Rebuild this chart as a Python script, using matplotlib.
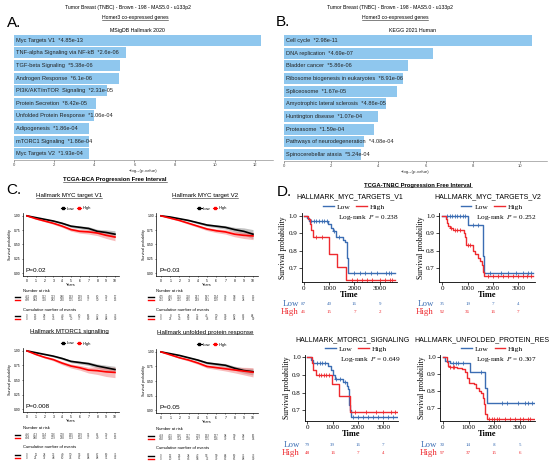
import matplotlib
matplotlib.use("Agg")
import matplotlib.pyplot as plt
import matplotlib.transforms as mtransforms
from matplotlib.lines import Line2D
import numpy as np

plt.rcParams["font.family"] = ["Liberation Sans", "DejaVu Sans"]
plt.rcParams["mathtext.fontset"] = "stix"

# ---- panel A / B : enrichment bars ----
hallmark_terms = ["Myc Targets V1", "TNF-alpha Signaling via NF-kB", "TGF-beta Signaling",
                  "Androgen Response", "PI3K/AKT/mTOR  Signaling", "Protein Secretion",
                  "Unfolded Protein Response", "Adipogenesis", "mTORC1 Signaling", "Myc Targets V2"]
hallmark_pvals = ["4.85e-13", "2.6e-06", "5.38e-06", "6.1e-06", "2.31e-05", "8.42e-05",
                  "1.06e-04", "1.86e-04", "1.86e-04", "1.93e-04"]
kegg_terms = ["Cell cycle", "DNA replication", "Bladder cancer", "Ribosome biogenesis in eukaryotes",
              "Spliceosome", "Amyotrophic lateral sclerosis", "Huntington disease", "Proteasome",
              "Pathways of neurodegeneration", "Spinocerebellar ataxia"]
kegg_pvals = ["2.98e-11", "4.69e-07", "5.86e-06", "8.91e-06", "1.67e-05", "4.86e-05",
              "1.07e-04", "1.59e-04", "4.08e-04", "5.24e-04"]

# ---- panel C : TCGA-BCA KM curves (yearly) ----
years = list(range(11))
c_titles = ["Hallmark MYC target V1", "Hallmark MYC target V2",
            "Hallmark MTORC1 signalling", "Hallmark unfolded protein response"]
c_pvals = ["P=0.02", "P=0.03", "P=0.008", "P=0.05"]
c_low_surv = [
    [1.00, 0.97, 0.94, 0.91, 0.87, 0.82, 0.80, 0.78, 0.73, 0.71, 0.68],
    [1.00, 0.98, 0.95, 0.92, 0.88, 0.84, 0.82, 0.80, 0.76, 0.73, 0.68],
    [1.00, 0.97, 0.94, 0.91, 0.87, 0.82, 0.80, 0.78, 0.74, 0.71, 0.68],
    [1.00, 0.97, 0.94, 0.90, 0.86, 0.81, 0.79, 0.77, 0.72, 0.68, 0.66],
]
c_high_surv = [
    [1.00, 0.95, 0.91, 0.87, 0.82, 0.76, 0.73, 0.72, 0.70, 0.66, 0.63],
    [1.00, 0.96, 0.92, 0.87, 0.82, 0.77, 0.74, 0.72, 0.68, 0.66, 0.65],
    [1.00, 0.94, 0.89, 0.85, 0.79, 0.74, 0.71, 0.67, 0.66, 0.64, 0.63],
    [1.00, 0.95, 0.90, 0.86, 0.81, 0.75, 0.73, 0.71, 0.69, 0.67, 0.65],
]
c_low_band = [
    [0, .006, .010, .014, .018, .022, .026, .030, .035, .045, .060],
    [0, .006, .010, .014, .018, .022, .026, .030, .040, .060, .080],
    [0, .006, .010, .014, .018, .022, .026, .030, .035, .045, .055],
    [0, .006, .010, .014, .018, .022, .026, .030, .035, .045, .055],
]
c_high_band = [
    [0, .008, .013, .018, .022, .027, .032, .038, .045, .055, .065],
    [0, .008, .013, .018, .022, .027, .032, .038, .045, .055, .065],
    [0, .010, .016, .022, .028, .034, .040, .050, .065, .080, .090],
    [0, .008, .013, .018, .022, .027, .032, .038, .050, .065, .080],
]
c_risk_low = [
    [441, 409, 362, 323, 286, 193, 139, 96, 60, 39, 17],
    [435, 406, 355, 310, 257, 187, 134, 90, 58, 36, 15],
    [446, 413, 364, 326, 278, 195, 139, 96, 61, 39, 17],
    [448, 415, 366, 327, 279, 193, 137, 94, 59, 38, 16],
]
c_risk_high = [
    [409, 384, 318, 282, 230, 175, 114, 77, 50, 31, 13],
    [415, 387, 325, 295, 259, 181, 119, 83, 52, 34, 15],
    [404, 380, 316, 279, 238, 173, 114, 77, 49, 31, 13],
    [402, 378, 314, 278, 237, 175, 116, 79, 51, 32, 14],
]
c_events_low = [
    [0, 13, 28, 36, 44, 54, 60, 65, 70, 71, 73],
    [0, 8, 17, 28, 35, 45, 50, 55, 60, 62, 64],
    [0, 11, 24, 33, 40, 50, 56, 62, 67, 69, 71],
    [0, 12, 25, 34, 42, 53, 59, 64, 69, 71, 73],
]
c_events_high = [
    [0, 19, 33, 45, 56, 70, 77, 80, 84, 88, 90],
    [0, 23, 43, 52, 63, 78, 85, 90, 94, 97, 99],
    [0, 21, 37, 48, 60, 74, 81, 84, 88, 91, 92],
    [0, 20, 36, 46, 58, 72, 79, 82, 86, 88, 90],
]

# ---- panel D : TCGA-TNBC KM step curves ----
d_titles = ["HALLMARK_MYC_TARGETS_V1", "HALLMARK_MYC_TARGETS_V2",
            "HALLMARK_MTORC1_SIGNALING", "HALLMARK_UNFOLDED_PROTEIN_RES"]
d_logrank = ["0.238", "0.252", "0.649", "0.307"]
d_end = 3590
d_low_t = [
    [0, 130, 220, 960, 1060, 1150, 1290, 1550, 1620, 1690, 1760],
    [0, 1000, 1590, 1660],
    [0, 130, 240, 830, 920, 1000, 1100, 1420, 1550, 1620, 1640, 1680, 1710],
    [0, 90, 280, 1040, 1640, 1720],
]
d_low_s = [
    [1.0, 0.985, 0.97, 0.95, 0.93, 0.91, 0.88, 0.86, 0.85, 0.76, 0.675],
    [1.0, 0.945, 0.77, 0.675],
    [1.0, 0.985, 0.97, 0.95, 0.93, 0.90, 0.88, 0.86, 0.835, 0.82, 0.73, 0.70, 0.66],
    [1.0, 0.98, 0.965, 0.91, 0.82, 0.73],
]
d_high_t = [
    [0, 150, 240, 300, 370, 1000, 1315, 1680],
    [0, 130, 170, 240, 300, 430, 850, 890, 930, 1200, 1290, 1420, 1500, 1560, 1600, 1660],
    [0, 170, 240, 340, 960, 1260, 1680],
    [0, 150, 220, 280, 550, 750, 870, 930, 1000, 1200, 1280, 1420, 1500, 1560, 1610, 1650, 1720],
]
d_high_s = [
    [1.0, 0.98, 0.95, 0.92, 0.88, 0.78, 0.71, 0.635],
    [1.0, 0.98, 0.96, 0.94, 0.93, 0.92, 0.90, 0.88, 0.83, 0.80, 0.78, 0.76, 0.74, 0.72, 0.68, 0.655],
    [1.0, 0.97, 0.93, 0.90, 0.85, 0.78, 0.69],
    [1.0, 0.97, 0.95, 0.94, 0.935, 0.93, 0.91, 0.88, 0.85, 0.84, 0.82, 0.80, 0.79, 0.76, 0.72, 0.66, 0.63],
]
d_low_cens = [
    [300, 400, 500, 600, 700, 800, 900, 1200, 1400, 2000, 2200, 2400, 2650, 2900, 3250, 3350, 3450],
    [200, 300, 400, 500, 600, 700, 800, 900, 1200, 1400, 1900, 2300, 2600, 2900, 3200, 3400, 3500],
    [400, 500, 600, 700, 1150, 1300, 1500, 1800, 2000, 2200, 2400, 2600, 2800, 3000, 3200, 3400],
    [400, 500, 600, 800, 1500, 2300, 2500, 2900, 3200, 3300, 3450],
]
d_high_cens = [
    [500, 700, 1900, 2100, 2300, 2500, 2700, 3000, 3200, 3400, 3500],
    [350, 500, 600, 700, 1000, 1100, 1800, 2000, 2200, 2400, 2600, 2800, 3000, 3200, 3350, 3500],
    [450, 550, 650, 750, 850, 1900, 2300, 2700, 3000, 3300, 3450],
    [300, 400, 450, 1800, 1900, 2000, 2100, 2200, 2400, 2600, 2800, 3000, 3100, 3300, 3400],
]
d_risk_times = [0, 1000, 2000, 3000]
d_risk_low = [[87, 40, 16, 9], [35, 19, 7, 4], [79, 39, 16, 7], [30, 14, 8, 5]]
d_risk_high = [[46, 15, 7, 2], [92, 36, 16, 7], [48, 16, 7, 4], [97, 37, 15, 6]]

W, H = 550, 465
BAR_BLUE = "#8fc7ee"
D_BLUE = "#3b6db3"
D_RED = "#ee2a2f"
SERIF = ["Liberation Serif", "DejaVu Serif"]

fig = plt.figure(figsize=(W / 100, H / 100), dpi=100)
underline = []


def rect(l, t, r, b):
    return [l / W, 1 - b / H, (r - l) / W, (b - t) / H]


def ftext(x, y, s, **kw):
    kw.setdefault("ha", "center")
    kw.setdefault("va", "center")
    return fig.text(x / W, 1 - y / H, s, **kw)


def fline(x0, x1, y, color, lw=1.0):
    fig.add_artist(Line2D([x0 / W, x1 / W], [1 - y / H, 1 - y / H], color=color, lw=lw))


def bar_panel(box, terms, pvals, xmax, xticks):
    ax = fig.add_axes(rect(*box))
    vals = [-np.log10(float(p)) for p in pvals]
    y = np.arange(len(terms))
    ax.barh(y, vals, height=0.86, color=BAR_BLUE, lw=0)
    for yi, term, p in zip(y, terms, pvals):
        ax.text(0.1, yi, f"{term}  *{p}", va="center", ha="left", fontsize=4.1, color="#222222")
    ax.set_ylim(len(terms) - 0.5, -0.5)
    ax.set_xlim(0, xmax)
    ax.set_yticks([])
    for s in ["left", "right", "top"]:
        ax.spines[s].set_visible(False)
    ax.spines["bottom"].set_linewidth(0.4)
    ax.spines["bottom"].set_color("#777777")
    ax.set_xticks(xticks)
    ax.tick_params(axis="x", labelsize=3, length=1.5, width=0.4, pad=1, colors="#444444")
    ax.set_xlabel("\u2212log\u2081\u2080(p-value)", fontsize=3.2, labelpad=1, color="#333333")
    return ax


# ---- A ----
header = "Tumor Breast (TNBC) - Brown - 198 - MAS5.0 - u133p2"
ftext(128, 7, header, fontsize=3.7)
underline.append(ftext(135, 18, "Homer3 co-expressed genes", fontsize=3.7))
ftext(7, 23, "A.", fontsize=11, ha="left")
ftext(137, 30.5, "MSigDB Hallmark 2020", fontsize=3.8)
bar_panel((14, 34, 273, 160), hallmark_terms, hallmark_pvals, 12.9, range(0, 13, 2))

# ---- B ----
ftext(390, 7, header, fontsize=3.7)
underline.append(ftext(395, 18, "Homer3 co-expressed genes", fontsize=3.7))
ftext(276, 22, "B.", fontsize=11, ha="left")
ftext(413, 30.5, "KEGG 2021 Human", fontsize=3.8)
bar_panel((284, 34, 547, 161), kegg_terms, kegg_pvals, 11.14, range(0, 11, 2))

# ---- C ----
underline.append(ftext(115, 180, "TCGA-BCA Progression Free Interval", fontsize=4.2, fontweight="bold"))
ftext(6, 190, "C.", fontsize=11, ha="left")

c_boxes = [(22.6, 213, 119.4, 276), (156.4, 213, 257.6, 276),
           (22.6, 348, 119.4, 412), (156.4, 349, 257.6, 413)]
c_title_y = [196, 196, 331, 332]
c_table_y = [(291, 297, 300, 310, 316, 319), (291, 297, 300, 310, 316, 319),
             (428, 435, 438, 447, 455, 458), (429, 436, 439, 448, 456, 459)]

for i in range(4):
    l, t, r, b = c_boxes[i]
    ax = fig.add_axes(rect(l, t, r, b))
    lo = np.array(c_low_surv[i])
    hi = np.array(c_high_surv[i])
    lb = np.array(c_low_band[i])
    hb = np.array(c_high_band[i])
    ax.fill_between(years, lo - lb, lo + lb, color="#9a9a9a", alpha=0.6, lw=0)
    ax.fill_between(years, hi - hb, hi + hb, color="#f27c7c", alpha=0.5, lw=0)
    ax.plot(years, lo, color="black", lw=1.2)
    ax.plot(years, hi, color="red", lw=1.2)
    ax.set_xlim(-0.5, 10.5)
    ax.set_ylim(-0.05, 1.05)
    ax.set_xticks(years)
    ax.set_yticks([0, 0.25, 0.5, 0.75, 1.0])
    ax.set_yticklabels(["0.00", "0.25", "0.50", "0.75", "1.00"])
    for s in ["right", "top"]:
        ax.spines[s].set_visible(False)
    for s in ["left", "bottom"]:
        ax.spines[s].set_linewidth(0.5)
    ax.tick_params(labelsize=2.4, length=1, width=0.4, pad=0.8)
    ax.set_xlabel("Years", fontsize=2.8, labelpad=0.5)
    ax.set_ylabel("Survival probability", fontsize=2.6, labelpad=1)
    ax.text(0.03, 0.08, c_pvals[i], transform=ax.transAxes, fontsize=4.6, va="center")
    handles = [Line2D([], [], color="black", marker="s", ms=2, lw=0.8),
               Line2D([], [], color="red", marker="s", ms=2, lw=0.8)]
    ax.legend(handles, ["Low", "High"], ncol=2, loc="lower center", bbox_to_anchor=(0.55, 1.0),
              frameon=False, fontsize=3, handlelength=1, handletextpad=0.3, columnspacing=0.6,
              borderaxespad=0.2)
    underline.append(ftext((l + r) / 2 - 2, c_title_y[i], c_titles[i], fontsize=4.4))

    nar, r1, r2, cum, e1, e2 = c_table_y[i]
    ftext(l, nar, "Number at risk", fontsize=3, ha="left")
    ftext(l, cum, "Cumulative number of events", fontsize=3, ha="left")
    trans = mtransforms.blended_transform_factory(ax.transData, fig.transFigure)
    for yy, vals, col in [(r1, c_risk_low[i], "black"), (r2, c_risk_high[i], "red"),
                          (e1, c_events_low[i], "black"), (e2, c_events_high[i], "red")]:
        fline(l - 8, l - 2.5, yy, col, lw=1.0)
        for x, v in zip(years, vals):
            ax.text(x, 1 - yy / H, str(v), transform=trans, fontsize=2.2,
                    ha="center", va="center", color="#444444")

# ---- D ----
underline.append(ftext(418, 185, "TCGA-TNBC Progression Free Interval", fontsize=4.2, fontweight="bold"))
ftext(277, 192, "D.", fontsize=11, ha="left")

d_boxes = [(301.5, 213, 397, 282), (439, 213, 535, 282),
           (305, 355, 398, 421), (440, 355, 535, 421)]
d_xlims = [(-90, 3680), (-130, 3660), (-90, 3580), (-105, 3578)]
d_ylims = [(0.622, 1.015), (0.622, 1.015), (0.64, 1.013), (0.621, 1.014)]
d_title_xy = [(350, 197), (488, 197), (352, 340), (482, 340)]
d_table = [(299, 304, 312), (434, 304, 312), (300, 445, 453), (437, 445, 453)]


def step_value(ts, ss, t):
    v = ss[0]
    for ti, si in zip(ts, ss):
        if ti <= t:
            v = si
    return v


for i in range(4):
    l, t, r, b = d_boxes[i]
    ax = fig.add_axes(rect(l, t, r, b))
    for ts, ss, cens, col in [(d_low_t[i], d_low_s[i], d_low_cens[i], D_BLUE),
                              (d_high_t[i], d_high_s[i], d_high_cens[i], D_RED)]:
        ax.step(ts + [d_end], ss + [ss[-1]], where="post", color=col, lw=1.0)
        cy = [step_value(ts, ss, c) for c in cens]
        ax.plot(cens, cy, ls="none", marker="+", ms=3, mew=0.6, color=col)
    ax.set_xlim(*d_xlims[i])
    ax.set_ylim(*d_ylims[i])
    ax.set_xticks([0, 1000, 2000, 3000])
    ax.set_yticks([0.7, 0.8, 0.9, 1.0])
    ax.set_yticklabels(["0.7", "0.8", "0.9", "1.0"])
    for s in ["right", "top"]:
        ax.spines[s].set_visible(False)
    for s in ["left", "bottom"]:
        ax.spines[s].set_linewidth(0.6)
    ax.tick_params(labelsize=5, length=2, width=0.5, pad=1)
    for lab in ax.get_xticklabels() + ax.get_yticklabels():
        lab.set_family(SERIF)
    ax.set_xlabel("Time", fontsize=6, family=SERIF, fontweight="bold", labelpad=0)
    ax.set_ylabel("Survival probability", fontsize=5.6, family=SERIF, labelpad=1)
    ax.text(0.70, 0.93, "Log-rank  $\\mathit{P}$ = " + d_logrank[i], transform=ax.transAxes,
            fontsize=5.2, family=SERIF, ha="center", va="center")
    handles = [Line2D([], [], color=D_BLUE, lw=1.0), Line2D([], [], color=D_RED, lw=1.0)]
    ax.legend(handles, ["Low", "High"], ncol=2, loc="lower center", bbox_to_anchor=(0.55, 0.99),
              frameon=False, prop={"family": SERIF, "size": 5.4}, handlelength=1.4,
              handletextpad=0.4, columnspacing=0.8, borderaxespad=0.1)
    tx, ty = d_title_xy[i]
    ftext(tx, ty, d_titles[i], fontsize=5.0)

    lx, y1, y2 = d_table[i]
    ftext(lx, y1, "Low", fontsize=6.4, family=SERIF, color=D_BLUE, ha="right")
    ftext(lx, y2, "High", fontsize=6.4, family=SERIF, color=D_RED, ha="right")
    trans = mtransforms.blended_transform_factory(ax.transData, fig.transFigure)
    for yy, vals, col in [(y1, d_risk_low[i], D_BLUE), (y2, d_risk_high[i], D_RED)]:
        for x, v in zip(d_risk_times, vals):
            ax.text(x, 1 - yy / H, str(v), transform=trans, fontsize=3.6,
                    family=SERIF, ha="center", va="center", color=col)

# underline the titles that are underlined in the picture
fig.canvas.draw()
renderer = fig.canvas.get_renderer()
for txt in underline:
    bb = txt.get_window_extent(renderer)
    yy = (bb.y0 + 0.4) / fig.bbox.height
    fig.add_artist(Line2D([bb.x0 / fig.bbox.width, bb.x1 / fig.bbox.width], [yy, yy],
                          color="#222222", lw=0.4))

fig.savefig("out.png", dpi=100)
